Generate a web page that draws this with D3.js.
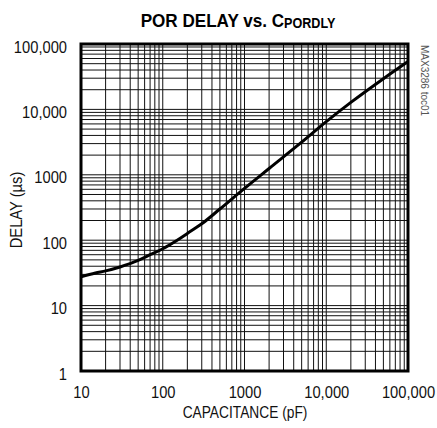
<!DOCTYPE html>
<html><head><meta charset="utf-8">
<script src="https://cdn.jsdelivr.net/npm/d3@7/dist/d3.min.js"></script>
<style>
body{margin:0;background:#fff;}
svg{display:block;}
text{font-family:"Liberation Sans",Arial,sans-serif;}
</style></head>
<body><svg id="c" width="437" height="428"></svg>
<script>
const capacitance = [10, 15, 20, 30, 50, 70, 100, 150, 200, 300, 500, 1000, 2000, 5000, 10000, 20000, 50000, 100000];
const delay =       [27.5, 31.5, 34, 39, 49, 60, 74, 100, 127, 178, 300, 620, 1250, 3150, 6500, 12800, 29500, 54000];
const xTicks = [10, 100, 1000, 10000, 100000];
const xTickLabels = ["10", "100", "1000", "10,000", "100,000"];
const yTicks = [1, 10, 100, 1000, 10000, 100000];
const yTickLabels = ["1", "10", "100", "1000", "10,000", "100,000"];

const svg = d3.select("#c");
const L = 81, R = 408, T = 44, B = 371;
const x = d3.scaleLog().domain([10, 100000]).range([L, R]);
const y = d3.scaleLog().domain([1, 100000]).range([B, T]);

const xGrid = [], yGrid = [];
for (let d = 10; d < 100000; d *= 10) for (let m = 1; m <= 9; m++) if (!(m === 1 && d === 10)) xGrid.push(d * m);
for (let d = 1; d < 100000; d *= 10) for (let m = 1; m <= 9; m++) if (!(m === 1 && d === 1)) yGrid.push(d * m);

const g = svg.append("g");
g.selectAll(".vx").data(xGrid).enter().append("line")
  .attr("x1", d => x(d)).attr("x2", d => x(d)).attr("y1", T).attr("y2", B)
  .attr("stroke", "#111").attr("stroke-width", 1);
g.selectAll(".hy").data(yGrid).enter().append("line")
  .attr("y1", d => y(d)).attr("y2", d => y(d)).attr("x1", L).attr("x2", R)
  .attr("stroke", "#111").attr("stroke-width", 1);

const pts = capacitance.map((c, i) => [c, delay[i]]);
svg.append("path").datum(pts)
  .attr("d", d3.line().x(d => x(d[0])).y(d => y(d[1])).curve(d3.curveMonotoneX))
  .attr("fill", "none").attr("stroke", "#000").attr("stroke-width", 3);

svg.append("rect").attr("x", L).attr("y", T).attr("width", R - L).attr("height", B - T)
  .attr("fill", "none").attr("stroke", "#000").attr("stroke-width", 3);

const SX = 0.92;
const xAxis = d3.axisBottom(x).tickValues(xTicks).tickFormat((d, i) => xTickLabels[i]).tickSize(0).tickPadding(16);
const xa = svg.append("g").attr("transform", `translate(0,${B})`).call(xAxis);
xa.select(".domain").remove();
xa.selectAll("text").attr("font-size", 16).attr("fill", "#111")
  .style("font-family", '"Liberation Sans",Arial,sans-serif')
  .attr("transform", `scale(${SX},1)`);

const yPad = 14;
const yAxis = d3.axisLeft(y).tickValues(yTicks).tickFormat((d, i) => yTickLabels[i]).tickSize(0).tickPadding(yPad);
const ya = svg.append("g").attr("transform", `translate(${L},0)`).call(yAxis);
ya.select(".domain").remove();
ya.selectAll("text").attr("font-size", 16).attr("fill", "#111")
  .style("font-family", '"Liberation Sans",Arial,sans-serif')
  .attr("x", -yPad / SX).attr("dy", "0.5em")
  .attr("transform", `scale(${SX},1)`);

const t = svg.append("text").attr("transform", "translate(238,27) scale(0.9,1)").attr("text-anchor", "middle")
  .attr("font-size", 19).attr("font-weight", "bold").attr("fill", "#000");
t.append("tspan").text("POR DELAY vs. C");
t.append("tspan").attr("font-size", 14).attr("dy", 1).text("PORDLY");

svg.append("text").attr("transform", "translate(245,418) scale(0.86,1)").attr("text-anchor", "middle")
  .attr("font-size", 16).attr("fill", "#111").text("CAPACITANCE (pF)");

svg.append("text").attr("transform", "translate(22,210) rotate(-90) scale(0.92,1)").attr("text-anchor", "middle")
  .attr("font-size", 16).attr("fill", "#111").text("DELAY (µs)");

svg.append("text").attr("transform", "translate(421,45) rotate(90)").attr("text-anchor", "start")
  .attr("font-size", 10).attr("fill", "#555").text("MAX3286 toc01");
</script></body></html>
